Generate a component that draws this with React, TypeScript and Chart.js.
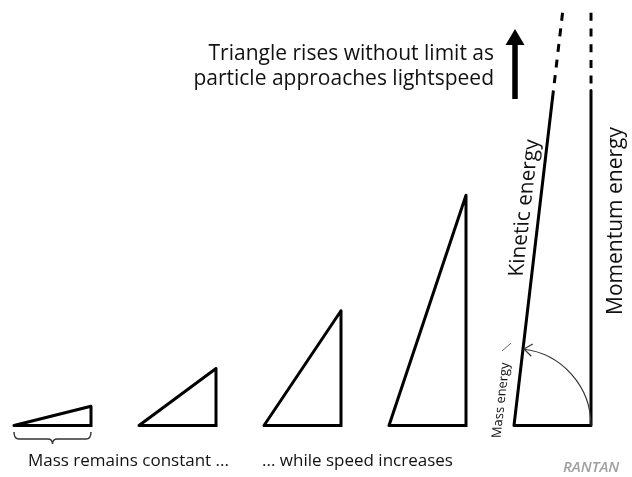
import React, { useEffect, useRef } from 'react';
import { Chart, registerables } from 'chart.js';

Chart.register(...registerables);

// ---- data (in units of the constant mass energy) ----
const massEnergy = 1;
const momentumEnergy = [0.25, 0.74, 1.49, 2.99, 8.5];
const visibleMomentum = 4.35; // solid part of last triangle
const dashedMomentum = 5.36; // dashed continuation

const headlineLines = ['Triangle rises without limit as', 'particle approaches lightspeed'];
const captionLeft = 'Mass remains constant ...';
const captionRight = '... while speed increases';
const kineticLabel = 'Kinetic energy';
const momentumLabel = 'Momentum energy';
const massLabel = 'Mass energy';
const logoText = 'RANTAN';

// ---- layout ----
const STEP = 1.6234;
const FONT = '"Open Sans", "DejaVu Sans", sans-serif';

function buildDatasets() {
  const ds: any[] = [];
  const base = {
    type: 'scatter',
    showLine: true,
    pointRadius: 0,
    borderColor: '#000',
    borderWidth: 3,
    fill: false,
    tension: 0,
    clip: false,
    borderJoinStyle: 'round',
    borderCapStyle: 'square',
  };
  momentumEnergy.forEach((p, i) => {
    const L = i * STEP;
    if (i < momentumEnergy.length - 1) {
      ds.push({
        ...base,
        data: [
          { x: L + massEnergy, y: 0 },
          { x: L, y: 0 },
          { x: L + massEnergy, y: p },
          { x: L + massEnergy, y: 0 },
        ],
      });
    } else {
      const slope = massEnergy / p;
      ds.push({
        ...base,
        borderCapStyle: 'butt',
        data: [
          { x: L + massEnergy, y: visibleMomentum },
          { x: L + massEnergy, y: 0 },
          { x: L, y: 0 },
          { x: L + visibleMomentum * slope, y: visibleMomentum },
        ],
      });
      ds.push({
        ...base,
        borderCapStyle: 'butt',
        borderDash: [8, 7.7],
        data: [
          { x: L + dashedMomentum * slope, y: dashedMomentum },
          { x: L + visibleMomentum * slope, y: visibleMomentum },
        ],
      });
      ds.push({
        ...base,
        borderCapStyle: 'butt',
        borderDash: [8, 7.7],
        data: [
          { x: L + massEnergy, y: dashedMomentum },
          { x: L + massEnergy, y: visibleMomentum },
        ],
      });
    }
  });
  return ds;
}

const decor = {
  id: 'decor',
  afterDatasetsDraw(chart: any) {
    const ctx: CanvasRenderingContext2D = chart.ctx;
    const xs = chart.scales.x;
    const ys = chart.scales.y;
    const X = (v: number) => xs.getPixelForValue(v);
    const Y = (v: number) => ys.getPixelForValue(v);
    const last = momentumEnergy.length - 1;
    const L5 = last * STEP;
    const m5 = momentumEnergy[last];

    const p0 = { x: X(L5), y: Y(0) };
    const p1 = { x: X(L5 + visibleMomentum * (massEnergy / m5)), y: Y(visibleMomentum) };
    const len = Math.hypot(p1.x - p0.x, p1.y - p0.y);
    const dir = { x: (p1.x - p0.x) / len, y: (p1.y - p0.y) / len };
    const left = { x: dir.y, y: -dir.x };
    const theta = Math.atan2(dir.y, dir.x);
    const r = X(massEnergy) - X(0);

    ctx.save();
    // headline
    ctx.fillStyle = '#111';
    ctx.font = `21px ${FONT}`;
    ctx.textAlign = 'right';
    ctx.textBaseline = 'alphabetic';
    ctx.fillText(headlineLines[0], p0.x - 20, 60);
    ctx.fillText(headlineLines[1], p0.x - 20, 85);

    // arrow
    const ax = p0.x + 1;
    ctx.fillStyle = '#000';
    ctx.fillRect(ax - 2.75, 43, 5.5, 56);
    ctx.beginPath();
    ctx.moveTo(ax, 29);
    ctx.lineTo(ax + 9.5, 45);
    ctx.lineTo(ax - 9.5, 45);
    ctx.closePath();
    ctx.fill();

    // arc with arrowhead
    ctx.strokeStyle = '#333';
    ctx.lineWidth = 1.2;
    ctx.beginPath();
    ctx.arc(p0.x, p0.y, r, 0, theta, true);
    ctx.stroke();
    const tip = { x: p0.x + r * Math.cos(theta), y: p0.y + r * Math.sin(theta) };
    const back = { x: -Math.sin(theta), y: Math.cos(theta) };
    const armLen = 11;
    const ang = 0.6;
    ctx.beginPath();
    for (const s of [ang, -ang]) {
      const bx = back.x * Math.cos(s) - back.y * Math.sin(s);
      const by = back.x * Math.sin(s) + back.y * Math.cos(s);
      ctx.moveTo(tip.x + bx * armLen, tip.y + by * armLen);
      ctx.lineTo(tip.x + 1, tip.y);
    }
    ctx.stroke();

    // labels sheared along the hypotenuse
    const drawAlong = (text: string, s: number, off: number, font: string) => {
      const px = p0.x + dir.x * s + left.x * off;
      const py = p0.y + dir.y * s + left.y * off;
      ctx.save();
      ctx.translate(px, py);
      ctx.transform(dir.x, dir.y, 1, 0, 0, 0);
      ctx.font = font;
      ctx.fillStyle = '#111';
      ctx.textAlign = 'center';
      ctx.textBaseline = 'alphabetic';
      ctx.fillText(text, 0, 0);
      ctx.restore();
    };
    drawAlong(kineticLabel, 218, 9, `21px ${FONT}`);
    drawAlong(massLabel, 24, 12, `13px ${FONT}`);

    // small tick after "Mass energy"
    const B = { x: p0.x + dir.x * 77, y: p0.y + dir.y * 77 };
    ctx.strokeStyle = '#666';
    ctx.lineWidth = 1;
    ctx.beginPath();
    ctx.moveTo(B.x - 21, B.y + 2);
    ctx.lineTo(B.x - 12, B.y - 6);
    ctx.stroke();

    // momentum label
    ctx.save();
    ctx.translate(X(L5 + massEnergy) + 31, 221);
    ctx.rotate(-Math.PI / 2);
    ctx.font = `21px ${FONT}`;
    ctx.fillStyle = '#111';
    ctx.textAlign = 'center';
    ctx.textBaseline = 'alphabetic';
    ctx.fillText(momentumLabel, 0, 0);
    ctx.restore();

    // brace under first triangle
    const x0 = X(0);
    const x1 = X(massEnergy);
    const y0 = Y(0) + 6.5;
    const xm = (x0 + x1) / 2;
    const h = 12;
    const rr = 5;
    ctx.strokeStyle = '#333';
    ctx.lineWidth = 1.4;
    ctx.beginPath();
    ctx.moveTo(x0, y0);
    ctx.quadraticCurveTo(x0, y0 + 7, x0 + rr, y0 + 7);
    ctx.lineTo(xm - rr, y0 + 7);
    ctx.quadraticCurveTo(xm, y0 + 7, xm, y0 + h);
    ctx.quadraticCurveTo(xm, y0 + 7, xm + rr, y0 + 7);
    ctx.lineTo(x1 - rr, y0 + 7);
    ctx.quadraticCurveTo(x1, y0 + 7, x1, y0);
    ctx.stroke();

    // captions
    ctx.fillStyle = '#111';
    ctx.font = `17px ${FONT}`;
    ctx.textAlign = 'left';
    ctx.fillText(captionLeft, 28, 466);
    ctx.fillText(captionRight, 262, 466);

    // logo
    ctx.font = `italic 600 15px ${FONT}`;
    ctx.fillStyle = '#a0a0a0';
    ctx.textAlign = 'left';
    ctx.fillText(logoText, 563, 472);

    ctx.restore();
  },
};

export default function App() {
  const ref = useRef<HTMLCanvasElement>(null);
  useEffect(() => {
    if (!ref.current) return;
    const chart = new Chart(ref.current, {
      type: 'scatter',
      data: { datasets: buildDatasets() },
      options: {
        responsive: false,
        animation: false,
        devicePixelRatio: 1,
        events: [],
        layout: { padding: 0 },
        plugins: { legend: { display: false }, tooltip: { enabled: false }, title: { display: false } },
        scales: {
          x: { type: 'linear', display: false, min: -0.1818, max: 8.026 },
          y: { type: 'linear', display: false, min: -0.669, max: 5.526 },
        },
      } as any,
      plugins: [decor],
    });
    return () => chart.destroy();
  }, []);
  return (
    <div style={{ position: 'absolute', left: 0, top: 0, width: 632, height: 477, background: '#fff' }}>
      <canvas ref={ref} width={632} height={477} style={{ display: 'block' }} />
    </div>
  );
}
